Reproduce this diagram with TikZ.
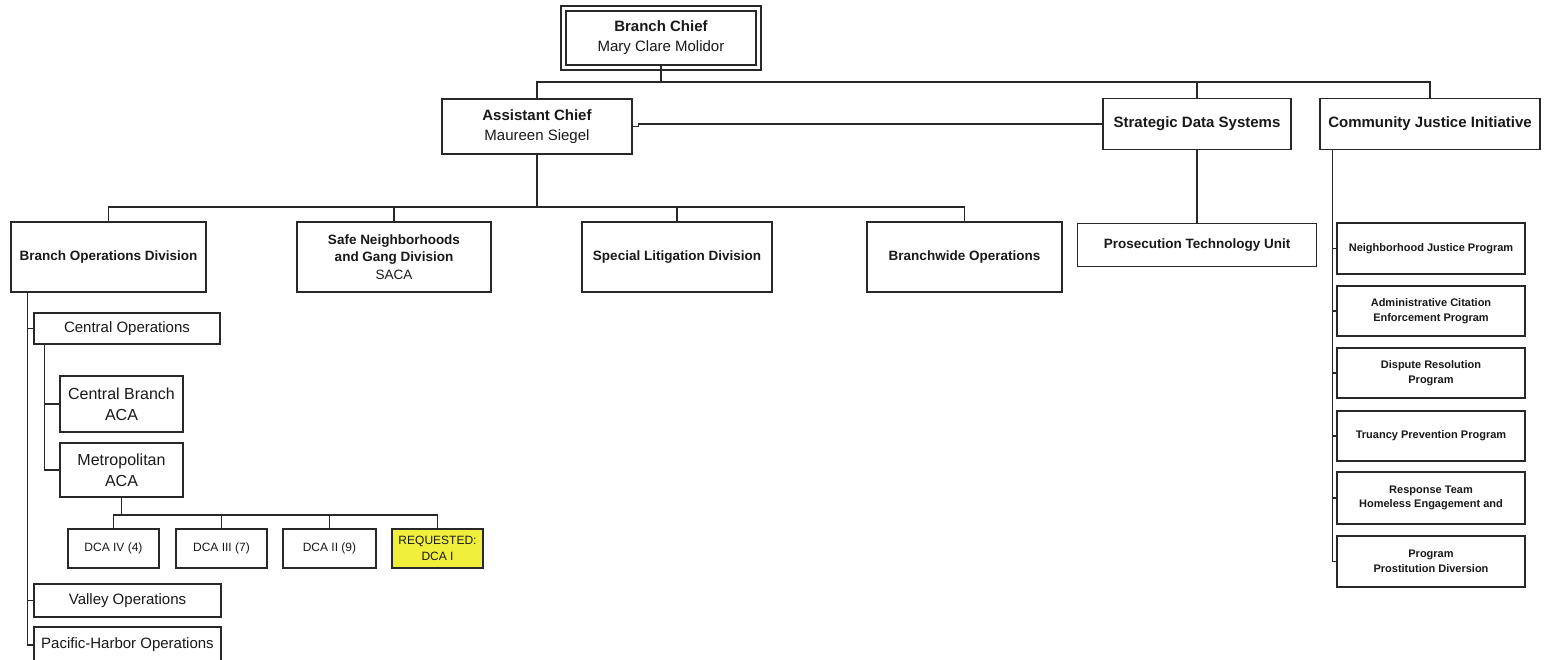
\documentclass[tikz,border=0pt]{standalone}
\usepackage{fontspec}
\setmainfont{Liberation Sans}
\usetikzlibrary{calc}
\definecolor{ln}{RGB}{40,40,40}
\definecolor{tx}{RGB}{25,25,25}
\definecolor{hl}{RGB}{240,240,60}
\newcommand{\fsz}[2]{\fontsize{#1pt}{#2pt}\selectfont}
\tikzset{
  box/.style={draw=ln, line width=1.5pt, inner sep=0pt, align=center, text=tx},
  wire/.style={draw=ln, line width=1.4pt},
  topf/.style={font=\fsz{15}{20}},
  midf/.style={font=\fsz{13.5}{17.5}\bfseries},
  rcf/.style={font=\fsz{11}{14.5}\bfseries},
  subf/.style={font=\fsz{15}{20}},
  acaf/.style={font=\fsz{16}{21}},
  dcaf/.style={font=\fsz{12}{16}}
}
\begin{document}
\begin{tikzpicture}[x=1pt,y=-1pt]
\useasboundingbox (0,0) rectangle (1545,659);
\fill[white] (0,0) rectangle (1545,659);

% top level
\node[box, line width=1.6pt, topf, minimum width=190, minimum height=54] (bc) at (661,38) {\textbf{Branch Chief}\\Mary Clare Molidor};
\draw[ln, line width=2.4pt] ($(bc.north west)+(-4,-4)$) rectangle ($(bc.south east)+(4,4)$);

\node[box, line width=2.8pt, topf, minimum width=190, minimum height=55] (ac) at (537,126.5) {\textbf{Assistant Chief}\\Maureen Siegel};
\node[box, font=\fsz{15}{20}\bfseries, minimum width=188, minimum height=51] (sds) at (1197,124) {Strategic Data Systems};
\node[box, font=\fsz{15}{20}\bfseries, minimum width=220, minimum height=51] (cji) at (1430,124) {Community Justice Initiative};

% division row
\node[box, midf, minimum width=195, minimum height=70] (bod) at (108.5,257) {Branch Operations Division};
\node[box, midf, minimum width=194, minimum height=70] (sn) at (394,257) {Safe Neighborhoods\\and Gang Division\\\mdseries SACA};
\node[box, midf, minimum width=190, minimum height=70] (sld) at (677,257) {Special Litigation Division};
\node[box, midf, minimum width=195, minimum height=70] (bo) at (964.5,257) {Branchwide Operations};
\node[box, midf, minimum width=239, minimum height=43] (ptu) at (1197,245) {Prosecution Technology Unit};

% community justice column
\node[box, rcf, minimum width=188, minimum height=51] (r1) at (1431,248.5) {Neighborhood Justice Program};
\node[box, rcf, minimum width=188, minimum height=50] (r2) at (1431,311) {Administrative Citation\\Enforcement Program};
\node[box, rcf, minimum width=188, minimum height=50] (r3) at (1431,373) {Dispute Resolution\\Program};
\node[box, rcf, minimum width=188, minimum height=50] (r4) at (1431,436) {Truancy Prevention Program};
\node[box, rcf, minimum width=188, minimum height=52] (r5) at (1431,498) {Response Team\\Homeless Engagement and};
\node[box, rcf, minimum width=188, minimum height=51] (r6) at (1431,561.5) {Program\\Prostitution Diversion};

% branch operations subtree
\node[box, subf, minimum width=186, minimum height=31] (co) at (127,328.5) {Central Operations};
\node[box, acaf, minimum width=123, minimum height=56] (cb) at (121.5,404) {Central Branch\\ACA};
\node[box, acaf, minimum width=123, minimum height=54] (met) at (121.5,470) {Metropolitan\\ACA};
\node[box, dcaf, minimum width=91, minimum height=39] (dca4) at (113.5,548.5) {DCA IV (4)};
\node[box, dcaf, minimum width=91, minimum height=39] (dca3) at (221.5,548.5) {DCA III (7)};
\node[box, dcaf, minimum width=93, minimum height=39] (dca2) at (329.5,548.5) {DCA II (9)};
\node[box, dcaf, fill=hl, minimum width=91, minimum height=39] (req) at (437.5,548.5) {REQUESTED:\\DCA I};
\node[box, subf, minimum width=187, minimum height=33] (vo) at (127.5,600.5) {Valley Operations};
\node[box, subf, minimum width=187, minimum height=36] (ph) at (127.5,645) {Pacific-Harbor Operations};

% connectors: top
\coordinate (busA) at (0,82);
\draw[wire] (bc.south) -- (bc.south |- busA);
\draw[wire] (ac.north) |- (busA -| cji.north) -- (cji.north);
\draw[wire] (sds.north) -- (sds.north |- busA);
\draw[wire] (ac.east) -- ++(5,0) |- (sds.west);
\draw[wire] (sds.south) -- (ptu.north);

% connectors: division bus
\coordinate (busB) at (0,207);
\draw[wire] (ac.south) -- (ac.south |- busB);
\draw[wire] (bod.north) |- (busB -| bo.north) -- (bo.north);
\draw[wire] (sn.north) -- (sn.north |- busB);
\draw[wire] (sld.north) -- (sld.north |- busB);

% community justice spine
\coordinate (cjiS) at ($(cji.south west)+(13,0)$);
\draw[wire] (cjiS) |- (r6.west);
\foreach \r in {r1,r2,r3,r4,r5} \draw[wire] (\r.west) -- (\r.west -| cjiS);

% branch operations spine
\coordinate (bodS) at ($(bod.south west)+(17,0)$);
\draw[wire] (bodS) |- (ph.west);
\foreach \r in {co,vo} \draw[wire] (\r.west) -- (\r.west -| bodS);

% central operations spine
\coordinate (coS) at ($(co.south west)+(11,0)$);
\draw[wire] (coS) |- (met.west);
\draw[wire] (cb.west) -- (cb.west -| coS);

% metropolitan bus
\coordinate (busC) at (0,515);
\draw[wire] (met.south) -- (met.south |- busC);
\draw[wire] (dca4.north) |- (busC -| req.north) -- (req.north);
\draw[wire] (dca3.north) -- (dca3.north |- busC);
\draw[wire] (dca2.north) -- (dca2.north |- busC);
\end{tikzpicture}
\end{document}
